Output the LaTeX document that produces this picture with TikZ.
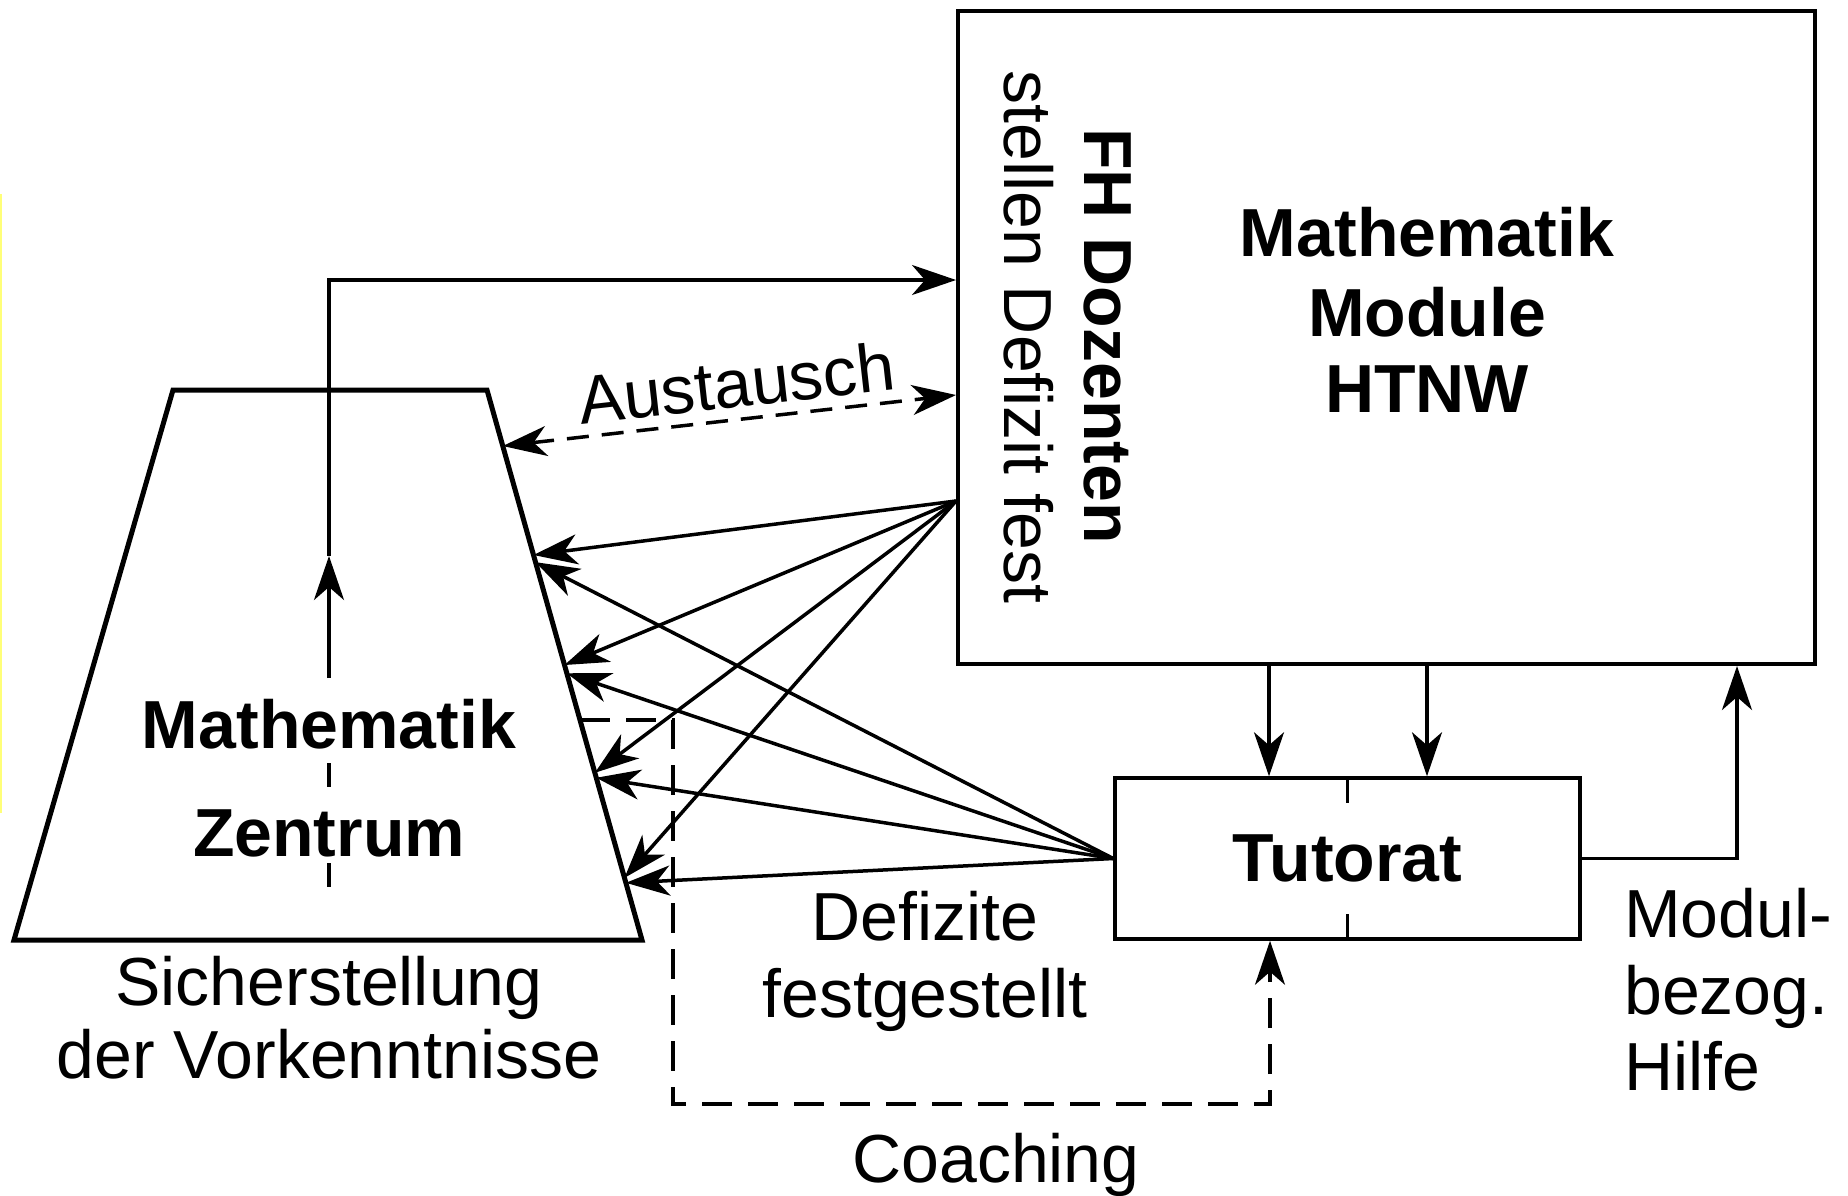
\documentclass[tikz,border=0pt]{standalone}
\usepackage{fontspec}
\setmainfont{Liberation Sans}
\usetikzlibrary{arrows.meta,calc}
\definecolor{edgeyellow}{RGB}{255,255,120}
\begin{document}
\begin{tikzpicture}[x=1pt,y=-1pt,
  every node/.style={font=\fontsize{68}{79}\selectfont, inner sep=0pt},
  txt/.style={anchor=base},
  boldtxt/.style={anchor=base, font=\fontsize{68}{79}\selectfont\bfseries},
  tip/.style={Stealth[length=44pt,width=30pt,inset=13pt]},
  conn/.style={line width=3.5pt, -{Stealth[length=44pt,width=30pt,inset=13pt]}},
  dashpat/.style={dash pattern=on 22pt off 13pt},
]
\useasboundingbox (0,0) rectangle (1848,1195);
\fill[white] (0,0) rectangle (1848,1195);
\draw[edgeyellow, line width=2pt] (1,194) -- (1,813);

% trapezoid (Mathematik Zentrum)
\coordinate (tl) at (173,390);
\coordinate (tr) at (487,390);
\coordinate (br) at (642,940);
\coordinate (bl) at (14,940);
\draw[line width=5pt, line join=miter] (tl) -- (tr) -- (br) -- (bl) -- cycle;

% big box
\node[draw, line width=4pt, minimum width=857pt, minimum height=653pt] (fh) at (1386.5,337.5) {};
% Tutorat box
\node[draw, line width=3.5pt, minimum width=465pt, minimum height=161pt, font=\fontsize{68}{79}\selectfont\bfseries] (tut) at (1347.5,858.5) {Tutorat};
\draw[line width=3pt] (tut.north) -- ++(0,27);
\draw[line width=3pt] (tut.south) -- ++(0,-27);

% helper coordinates
\coordinate (c1) at (1269,0);
\coordinate (c2) at (1427,0);
\coordinate (c3) at (1737,0);
\coordinate (vx) at (329,0);
\coordinate (ytop) at (0,280);
\coordinate (ymid) at (0,556);
\coordinate (ysol) at (0,678);
\coordinate (yd1) at (0,763);
\coordinate (yd2) at (0,887);
\coordinate (yaus) at (0,395);
\coordinate (ysrc) at (0,501);
\coordinate (cx) at (673,0);
\coordinate (cy) at (0,1104);
\coordinate (cx2) at (1270,0);

% box -> Tutorat
\draw[conn] (c1 |- fh.south) -- (c1 |- tut.north);
\draw[conn] (c2 |- fh.south) -- (c2 |- tut.north);
% Tutorat -> box
\draw[conn] (tut.east) -- (tut.east -| c3) -- (c3 |- fh.south);

% vertical arrow from Zentrum up to box
\draw[line width=3.5pt, dash pattern=on 24pt off 76pt] (vx |- yd1) -- (vx |- yd2);
\draw[conn] (vx |- ysol) -- (vx |- ymid);
\draw[conn] (vx |- ymid) -- (vx |- ytop) -- (fh.west |- ytop);

% Austausch
\coordinate (aus1) at ($(tr)!0.1018!(br)$);
\draw[line width=3.5pt, dashpat, {Stealth[length=44pt,width=30pt,inset=13pt]}-{Stealth[length=44pt,width=30pt,inset=13pt]}] (aus1) -- (fh.west |- yaus);
\node[txt, rotate=6.4] (austxt) at (739,407) {Austausch};

% box -> Zentrum
\coordinate (src) at (fh.west |- ysrc);
\draw[conn] (src) -- ($(tr)!0.30!(br)$);
\draw[conn] (src) -- ($(tr)!0.50!(br)$);
\draw[conn] (src) -- ($(tr)!0.696!(br)$);
\draw[conn] (src) -- ($(tr)!0.887!(br)$);
% Tutorat -> Zentrum
\draw[conn] (tut.west) -- ($(tr)!0.313!(br)$);
\draw[conn] (tut.west) -- ($(tr)!0.515!(br)$);
\draw[conn] (tut.west) -- ($(tr)!0.705!(br)$);
\draw[conn] (tut.west) -- ($(tr)!0.896!(br)$);

% Coaching
\coordinate (cs) at ($(tr)!0.6!(br)$);
\draw[line width=3.5pt, dash pattern=on 30pt off 16pt, -{Stealth[length=44pt,width=30pt,inset=13pt]}]
  (cs) -- (cs -| cx) -- (cx |- cy) -- (cx2 |- cy) -- (cx2 |- tut.south);

% texts
\node[boldtxt, rotate=-90] (fhd) at (1084,336) {FH Dozenten};
\node[txt, rotate=-90] (sdf) at (1004,337) {stellen Defizit fest};
\node[boldtxt] (mm1) at (1427,256) {Mathematik};
\node[boldtxt] (mm2) at (1427,336) {Module};
\node[boldtxt] (mm3) at (1427,412) {HTNW};
\node[boldtxt] (mz1) at (329,748) {Mathematik};
\node[boldtxt] (mz2) at (329,856) {Zentrum};
\node[txt] (sv1) at (329,1005) {Sicherstellung};
\node[txt] (sv2) at (329,1078) {der Vorkenntnisse};
\node[txt] (df1) at (925,940) {Defizite};
\node[txt] (df2) at (925,1017) {festgestellt};
\node[anchor=base west] (mh1) at (1624,937) {Modul-};
\node[anchor=base west] (mh2) at (1624,1014) {bezog.};
\node[anchor=base west] (mh3) at (1624,1090) {Hilfe};
\node[txt] (coach) at (996,1182) {Coaching};
\end{tikzpicture}
\end{document}
